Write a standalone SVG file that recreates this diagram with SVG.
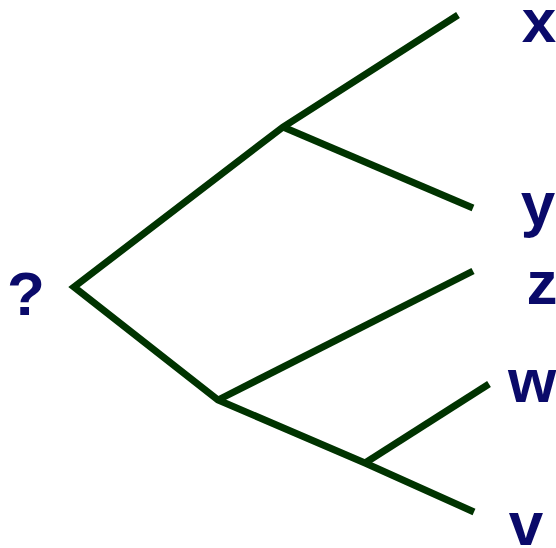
<svg xmlns="http://www.w3.org/2000/svg" width="556" height="548" viewBox="0 0 556 548">
<style>
.e{stroke:#003300;stroke-width:7;fill:none;stroke-linecap:butt;stroke-linejoin:miter}
.t{font-family:"Liberation Sans",Arial,sans-serif;font-weight:bold;font-size:62px;fill:#0a0a6a;text-anchor:middle}
</style>
<rect width="556" height="548" fill="#ffffff"/>
<g id="connectors">
<polyline class="e" points="458,15 283,127 74,287 218,400 365,463 474,512"/>
<line class="e" x1="283" y1="127" x2="473" y2="208"/>
<line class="e" x1="218" y1="400" x2="473" y2="271"/>
<line class="e" x1="365" y1="463" x2="489" y2="384"/>
</g>
<g id="root"><text class="t" x="26" y="315">?</text></g>
<g id="leaf-x"><text class="t" x="539" y="42">x</text></g>
<g id="leaf-y"><text class="t" x="538" y="225">y</text></g>
<g id="leaf-z"><text class="t" x="542" y="304">z</text></g>
<g id="leaf-w"><text class="t" x="532" y="402">w</text></g>
<g id="leaf-v"><text class="t" x="526" y="545">v</text></g>
</svg>
